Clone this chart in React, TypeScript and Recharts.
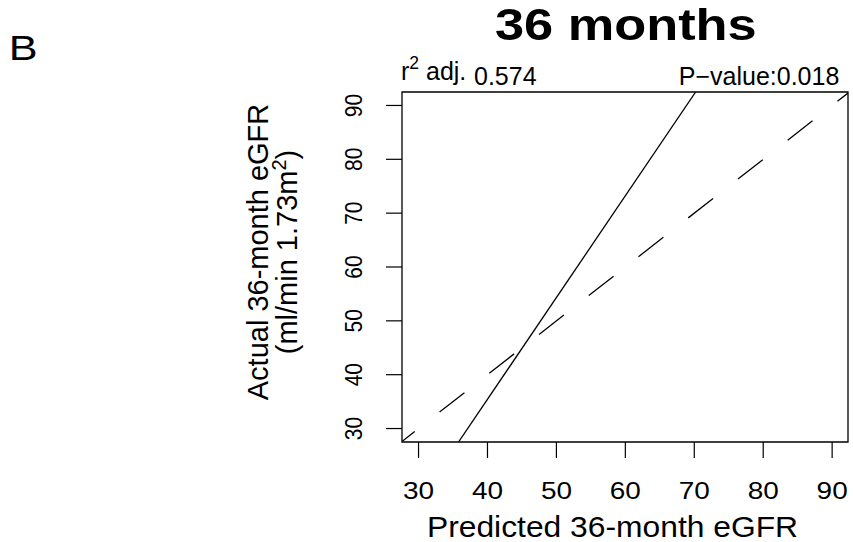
import { JSX } from 'react';
import { ComposedChart, Line, XAxis, YAxis, ReferenceArea } from 'recharts';

const predictedTicks = [30, 40, 50, 60, 70, 80, 90];
const actualTicks = [30, 40, 50, 60, 70, 80, 90];
const predictedRange = [27.6, 92.3];
const actualRange = [27.5, 92.5];

// line of identity (dashed)
const identityPredicted = [27.6, 92.3];
const identityActual = [27.6, 92.3];
// fitted line (solid)
const fitPredicted = [35.8, 70.2];
const fitActual = [27.5, 92.5];

const panelLetter = 'B';
const chartTitle = '36 months';
const r2Adj = '0.574';
const pValue = '0.018';

const FONT = "'Liberation Sans', Arial, Helvetica, sans-serif";
const INK = '#000';

const identityData = identityPredicted.map((x, i) => ({ x, y: identityActual[i] }));
const fitData = fitPredicted.map((x, i) => ({ x, y: fitActual[i] }));

type TickProps = { x?: number; y?: number; payload?: { value: number } };

const XTick = ({ x = 0, payload }: TickProps): JSX.Element => (
  <text
    transform={`translate(${x},499.3) scale(1.2,1)`}
    textAnchor='middle'
    fontSize={23.3}
    fontFamily={FONT}
    fill={INK}
  >
    {payload?.value}
  </text>
);

const YTick = ({ y = 0, payload }: TickProps): JSX.Element => (
  <text
    transform={`translate(361.7,${y}) scale(1.18,1) rotate(-90)`}
    textAnchor='middle'
    fontSize={21}
    fontFamily={FONT}
    fill={INK}
  >
    {payload?.value}
  </text>
);

export default function App(): JSX.Element {
  return (
    <div style={{ position: 'absolute', left: 0, top: 0, background: '#fff' }}>
      <ComposedChart
        width={853}
        height={542}
        margin={{ top: 92, right: 5, bottom: 0, left: 0 }}
      >
        <XAxis
          dataKey='x'
          type='number'
          domain={predictedRange}
          ticks={predictedTicks}
          allowDataOverflow
          height={100}
          tickSize={16}
          axisLine={false}
          tickLine={{ stroke: INK, strokeWidth: 1.2 }}
          tick={<XTick />}
        />
        <YAxis
          dataKey='y'
          type='number'
          domain={actualRange}
          ticks={actualTicks}
          allowDataOverflow
          width={402}
          tickSize={16}
          axisLine={false}
          tickLine={{ stroke: INK, strokeWidth: 1.2 }}
          tick={<YTick />}
        />
        <ReferenceArea
          x1={predictedRange[0]}
          x2={predictedRange[1]}
          y1={actualRange[0]}
          y2={actualRange[1]}
          fill='none'
          stroke={INK}
          strokeWidth={1.3}
          ifOverflow='visible'
        />
        <Line
          data={identityData}
          dataKey='y'
          type='linear'
          stroke={INK}
          strokeWidth={1.3}
          strokeDasharray='31.5 31.6'
          strokeDashoffset={15.4}
          dot={false}
          activeDot={false}
          isAnimationActive={false}
        />
        <Line
          data={fitData}
          dataKey='y'
          type='linear'
          stroke={INK}
          strokeWidth={1.3}
          dot={false}
          activeDot={false}
          isAnimationActive={false}
        />

        <text
          transform='translate(8.8,60) scale(1.2,1)'
          fontSize={36}
          fontFamily={FONT}
          fill={INK}
        >
          {panelLetter}
        </text>
        <text
          transform='translate(625.8,40) scale(1.19,1)'
          textAnchor='middle'
          fontSize={44}
          fontWeight='bold'
          fontFamily={FONT}
          fill={INK}
        >
          {chartTitle}
        </text>
        <text x={401} y={80} fontSize={25} fontFamily={FONT} fill={INK}>
          <tspan>r</tspan>
          <tspan dy={-11} fontSize={17.5}>2</tspan>
          <tspan dy={11}> adj.</tspan>
        </text>
        <text x={474} y={85} fontSize={25} fontFamily={FONT} fill={INK}>
          {r2Adj}
        </text>
        <text x={839.3} y={85} textAnchor='end' fontSize={25} fontFamily={FONT} fill={INK}>
          {`P\u2212value:${pValue}`}
        </text>
        <text
          transform='translate(612.5,536.7) scale(1.06,1)'
          textAnchor='middle'
          fontSize={30}
          fontFamily={FONT}
          fill={INK}
        >
          Predicted 36-month eGFR
        </text>
        <text
          transform='translate(268,252) scale(1.04,1) rotate(-90)'
          textAnchor='middle'
          fontSize={29}
          fontFamily={FONT}
          fill={INK}
        >
          Actual 36-month eGFR
        </text>
        <text
          transform='translate(297,252) scale(1.04,1) rotate(-90)'
          textAnchor='middle'
          fontSize={29}
          fontFamily={FONT}
          fill={INK}
        >
          <tspan>(ml/min 1.73m</tspan>
          <tspan dy={-11} fontSize={20}>2</tspan>
          <tspan dy={11}>)</tspan>
        </text>
      </ComposedChart>
    </div>
  );
}
